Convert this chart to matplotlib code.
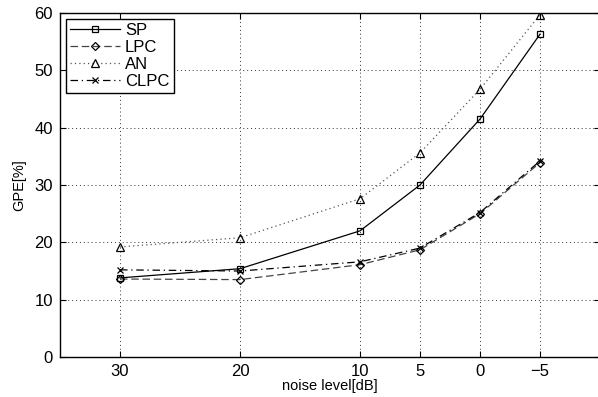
import matplotlib
matplotlib.use('Agg')
import matplotlib.pyplot as plt

noise_db = [30, 20, 10, 5, 0, -5]
sp = [13.8, 15.4, 22.0, 30.0, 41.5, 56.3]
lpc = [13.6, 13.5, 16.1, 18.7, 25.0, 33.9]
an = [19.2, 20.8, 27.6, 35.6, 46.7, 59.7]
clpc = [15.2, 15.0, 16.6, 19.0, 25.2, 34.2]

plt.rcParams['font.family'] = ['Liberation Sans', 'DejaVu Sans']

fig = plt.figure(figsize=(5.98, 3.97), dpi=100)
ax = fig.add_axes([60/598, 1 - 357/397, 540/598, 344/397])

ax.plot(noise_db, sp, 'k-', marker='s', ms=4.5, mfc='none', mew=0.9, lw=0.9, label='SP')
ax.plot(noise_db, lpc, color='#444444', ls=(0, (6, 3)), marker='D', ms=4.5, mfc='none',
        mec='k', mew=0.9, lw=0.9, label='LPC')
ax.plot(noise_db, an, color='#555555', ls=(0, (1, 2.5)), marker='^', ms=6, mfc='none',
        mec='k', mew=0.9, lw=0.9, label='AN')
ax.plot(noise_db, clpc, 'k', ls=(0, (6, 3, 1, 3)), marker='x', ms=4, mew=0.9, lw=0.9, label='CLPC')

ax.set_xlim(35, -10)
ax.set_ylim(0, 60)
ax.set_xticks(noise_db)
ax.set_xticklabels(['30', '20', '10', '5', '0', '\u22125'])
ax.set_yticks([0, 10, 20, 30, 40, 50, 60])
ax.tick_params(direction='in', top=True, right=True, labelsize=12, length=4, width=0.8, pad=5)
ax.grid(True, linestyle=(0, (1, 3)), color='#333333', lw=0.7)
for s in ax.spines.values():
    s.set_linewidth(1.0)

ax.set_xlabel('noise level[dB]', fontsize=10.5, labelpad=0)
ax.set_ylabel('GPE[%]', fontsize=10.5, labelpad=6)

leg = ax.legend(loc='upper left', fontsize=12, frameon=True, fancybox=False,
                edgecolor='k', framealpha=1, handlelength=3.0, borderpad=0.25,
                labelspacing=0.12, handletextpad=0.3, borderaxespad=0.35)
leg.get_frame().set_linewidth(1.0)

fig.savefig('out.png', dpi=100)
